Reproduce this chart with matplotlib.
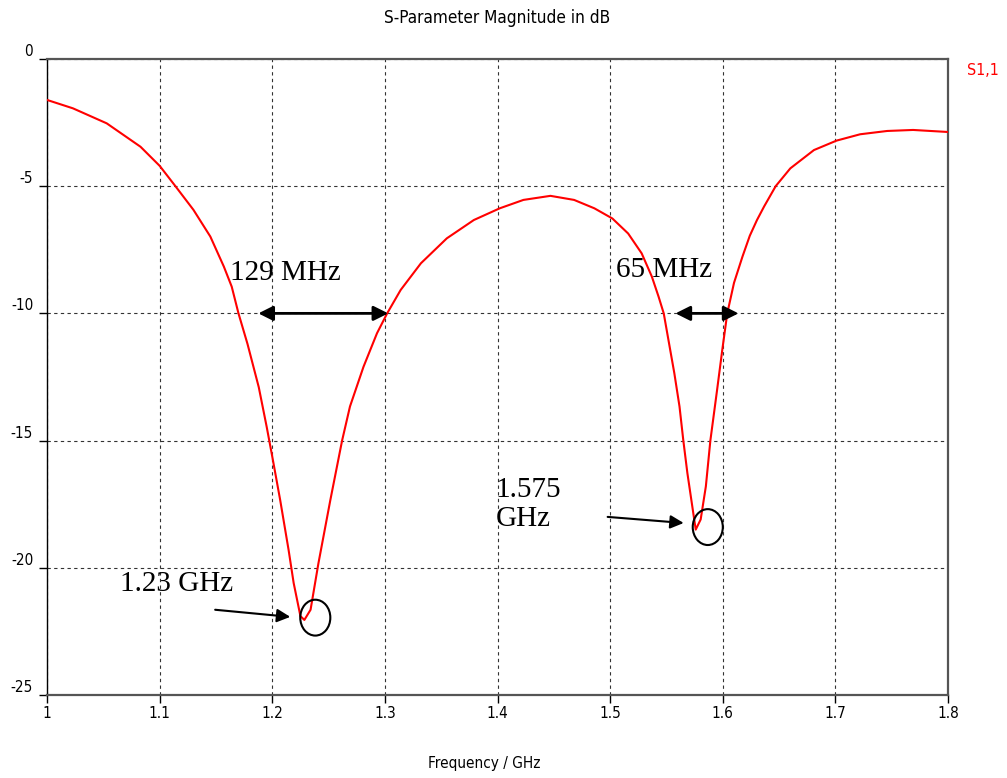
import matplotlib
matplotlib.use("Agg")
import matplotlib.pyplot as plt
from matplotlib.patches import Ellipse

plt.rcParams['axes.unicode_minus'] = False
plt.rcParams['font.family'] = ['DejaVu Sans']
plt.rcParams['font.stretch'] = 'condensed'

# S11 sweep, frequency in GHz, magnitude in dB
freq = [1.0, 1.023, 1.053, 1.083, 1.1, 1.114, 1.13, 1.145, 1.157, 1.164,
        1.170, 1.178, 1.188, 1.195, 1.2, 1.207, 1.2145, 1.219, 1.225, 1.2285,
        1.234, 1.241, 1.2516, 1.262, 1.269, 1.281, 1.293, 1.302, 1.314, 1.332,
        1.355, 1.379, 1.402, 1.423, 1.447, 1.468, 1.486, 1.502, 1.516, 1.528,
        1.537, 1.543, 1.5476, 1.552, 1.557, 1.5616, 1.565, 1.5686, 1.573, 1.576,
        1.5804, 1.585, 1.589, 1.595, 1.5996, 1.604, 1.61, 1.6175, 1.624, 1.6304,
        1.6367, 1.647, 1.66, 1.681, 1.701, 1.722, 1.746, 1.769, 1.8]
s11_db = [-1.61, -1.94, -2.53, -3.45, -4.2, -5.0, -5.93, -6.98, -8.16, -8.95,
          -10.0, -11.2, -12.9, -14.45, -15.63, -17.33, -19.3, -20.6, -21.9, -22.05,
          -21.65, -19.82, -17.33, -15.0, -13.66, -12.1, -10.78, -10.0, -9.08, -8.03,
          -7.05, -6.33, -5.87, -5.54, -5.38, -5.54, -5.87, -6.27, -6.86, -7.64,
          -8.55, -9.34, -10.0, -11.1, -12.35, -13.66, -15.0, -16.28, -17.6, -18.5,
          -18.1, -16.8, -15.0, -13.0, -11.43, -10.0, -8.8, -7.77, -6.95, -6.33,
          -5.8, -5.0, -4.3, -3.58, -3.21, -2.96, -2.83, -2.79, -2.87]

x_ticks = [1.0, 1.1, 1.2, 1.3, 1.4, 1.5, 1.6, 1.7, 1.8]
x_labels = ['1', '1.1', '1.2', '1.3', '1.4', '1.5', '1.6', '1.7', '1.8']
y_ticks = [0, -5, -10, -15, -20, -25]
y_labels = ['0', '-5', '-10', '-15', '-20', '-25']

# -10 dB bandwidth markers (GHz)
band_low = (1.1876, 1.303)
band_high = (1.558, 1.614)
band_labels = ['129 MHz', '65 MHz']
# resonance markers: (label, centre GHz, centre dB)
resonances = [('1.23 GHz', 1.2382, -21.96), ('1.575\nGHz', 1.5867, -18.4)]

fig = plt.figure(figsize=(10.07, 7.78), dpi=100)
ax = fig.add_axes([0.0467, 0.1067, 0.8947, 0.8175])

ax.plot(freq, s11_db, color='#ff0000', lw=1.5, zorder=3)

ax.set_xlim(1.0, 1.8)
ax.set_ylim(-25, 0)
ax.set_xticks(x_ticks)
ax.set_xticklabels(x_labels)
ax.set_yticks(y_ticks)
ax.set_yticklabels(y_labels)
for lab in ax.get_yticklabels():
    lab.set_verticalalignment('bottom')
ax.tick_params(axis='both', labelsize=11, direction='out', length=6, width=1,
               colors='black', pad=2)
ax.tick_params(axis='y', pad=4)

ax.grid(True, color='#333333', linestyle=(0, (3, 3)), lw=0.8)
for side in ['top', 'right', 'bottom']:
    ax.spines[side].set_color('#555555')
    ax.spines[side].set_linewidth(1.6)
ax.spines['left'].set_color('black')
ax.spines['left'].set_linewidth(1.0)

fig.text(0.4935, 0.977, 'S-Parameter Magnitude in dB', ha='center', va='center', fontsize=12.3)
fig.text(0.4806, 0.019, 'Frequency / GHz', ha='center', va='center', fontsize=11)
fig.text(0.9603, 0.91, 'S1,1', color='#ff0000', ha='left', va='center', fontsize=11.5)

serif = 'Liberation Serif'
arrow_kw = dict(arrowstyle='<|-|>', color='black', lw=2, mutation_scale=22,
                shrinkA=0, shrinkB=0)
ax.annotate('', xy=(band_low[1], -10), xytext=(band_low[0], -10), arrowprops=arrow_kw)
ax.annotate('', xy=(band_high[1], -10), xytext=(band_high[0], -10), arrowprops=arrow_kw)
ax.text(1.1627, -8.4, band_labels[0], family=serif, fontsize=21, ha='left', va='center')
ax.text(1.505, -8.3, band_labels[1], family=serif, fontsize=21, ha='left', va='center')

# resonance callouts: label, arrow and circle
one_kw = dict(arrowstyle='-|>', color='black', lw=1.5, mutation_scale=20,
              shrinkA=0, shrinkB=0)
ax.text(1.065, -20.65, resonances[0][0], family=serif, fontsize=21, ha='left', va='center')
ax.annotate('', xy=(1.216, -21.93), xytext=(1.1493, -21.65), arrowprops=one_kw)
ax.text(1.398, -17.5, resonances[1][0], family=serif, fontsize=21, ha='left',
        va='center', linespacing=1.15)
ax.annotate('', xy=(1.5653, -18.24), xytext=(1.4978, -18.0), arrowprops=one_kw)
for _, fc, db in resonances:
    ax.add_patch(Ellipse((fc, db), 0.0267, 1.41, fill=False, edgecolor='black',
                         lw=1.5, zorder=4))

fig.savefig('out.png', dpi=100)
